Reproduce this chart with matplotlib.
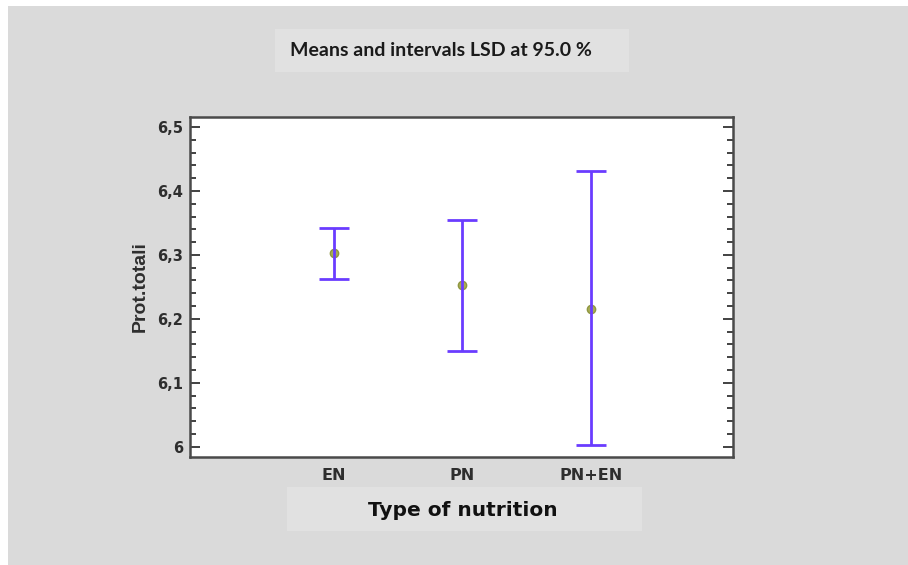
import matplotlib
matplotlib.use("Agg")
import matplotlib.pyplot as plt
from matplotlib.patches import Rectangle
from matplotlib.ticker import MultipleLocator, FuncFormatter

# Means with LSD intervals (95 %) of total proteins by nutrition type
groups = ["EN", "PN", "PN+EN"]
means = [6.303, 6.253, 6.216]
lower = [6.262, 6.150, 6.003]
upper = [6.342, 6.355, 6.431]

fig = plt.figure(figsize=(9.08, 5.65), dpi=100)
fig.patch.set_facecolor("white")

# grey panel behind everything, plus the two lighter label boxes
W, H = 908.0, 565.0
fig.patches.append(Rectangle((8 / W, 0), 1 - 8 / W, 1 - 6 / H, transform=fig.transFigure,
                             facecolor="#dadada", edgecolor="none", zorder=-10))
fig.patches.append(Rectangle((275 / W, 1 - 72 / H), 354 / W, 43 / H, transform=fig.transFigure,
                             facecolor="#e1e1e1", edgecolor="none", zorder=-9))
fig.patches.append(Rectangle((287 / W, 1 - 531 / H), 355 / W, 44 / H, transform=fig.transFigure,
                             facecolor="#e1e1e1", edgecolor="none", zorder=-9))

ax = fig.add_axes([190 / W, 1 - 457 / H, 543 / W, 340 / H])
ax.set_facecolor("white")

x = list(range(len(groups)))
yerr = [[m - lo for m, lo in zip(means, lower)], [hi - m for m, hi in zip(means, upper)]]

ax.plot(x, means, "o", ms=6, mfc="#a8ad55", mec="#8f9640", mew=1, zorder=2, ls="none")
ax.errorbar(x, means, yerr=yerr, fmt="none", ecolor="#6a3cff", elinewidth=2,
            capsize=11, capthick=2, zorder=3)

ax.set_xlim(-1.12, 3.105)
ax.set_ylim(5.984, 6.5156)
ax.set_xticks(x)
ax.set_xticklabels(groups)
ax.yaxis.set_major_locator(MultipleLocator(0.1))
ax.yaxis.set_minor_locator(MultipleLocator(0.02))
ax.yaxis.set_major_formatter(FuncFormatter(lambda v, p: ("%g" % round(v, 2)).replace(".", ",")))

for side in ax.spines.values():
    side.set_linewidth(1.8)
    side.set_color("#4a4a4a")

ax.tick_params(axis="y", which="both", direction="in", left=True, right=True,
               color="#333333", width=1.3)
ax.tick_params(axis="y", which="major", length=7, pad=5, labelsize=10.5,
               labelcolor="#2e2e2e")
ax.tick_params(axis="y", which="minor", length=4)
ax.tick_params(axis="x", which="both", length=0, pad=8, labelsize=11.5,
               labelcolor="#2e2e2e")
for lab in ax.get_xticklabels() + ax.get_yticklabels():
    lab.set_fontfamily("DejaVu Sans")
    lab.set_fontweight("bold")

ax.set_ylabel("Prot.totali", fontsize=14, fontweight="bold",
              family=["Liberation Sans Narrow", "Liberation Sans"], color="#2e2e2e", labelpad=6)

fig.text(441 / W, 1 - 51 / H, "Means and intervals LSD at 95.0 %", ha="center", va="center",
         fontsize=14, fontweight="bold", family="Lato", color="#1a1a1a")
fig.text(463 / W, 1 - 510 / H, "Type of nutrition", ha="center", va="center",
         fontsize=14.5, fontweight="heavy", family="DejaVu Sans", color="#111111")

fig.savefig("out.png", dpi=100, facecolor=fig.get_facecolor())
